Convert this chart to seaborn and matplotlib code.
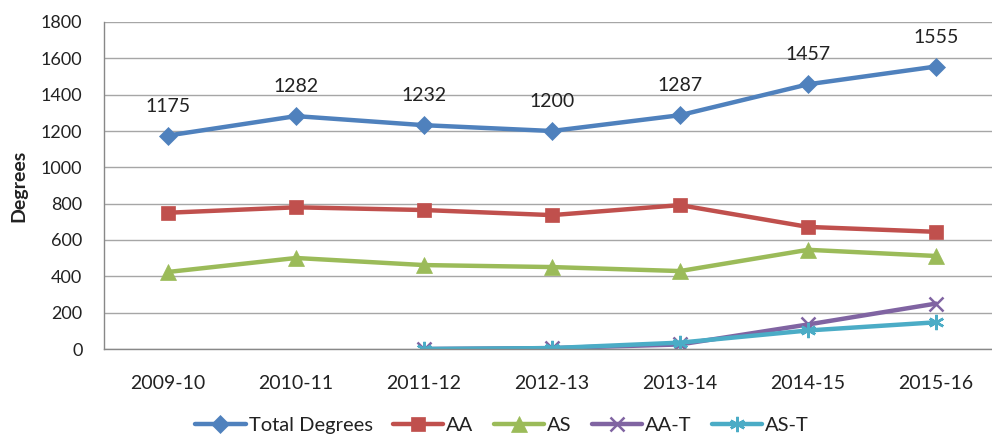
import numpy as np
import pandas as pd
import matplotlib
matplotlib.use('Agg')
import matplotlib.pyplot as plt
import seaborn as sns

years = ['2009-10', '2010-11', '2011-12', '2012-13', '2013-14', '2014-15', '2015-16']
total = [1175, 1282, 1232, 1200, 1287, 1457, 1555]
aa = [750, 780, 765, 737, 792, 672, 645]
as_ = [424, 501, 462, 451, 429, 546, 512]
aa_t = [np.nan, np.nan, 0, 5, 25, 135, 250]
as_t = [np.nan, np.nan, 0, 5, 35, 102, 147]

series = ['Total Degrees', 'AA', 'AS', 'AA-T', 'AS-T']
colors = ['#4F81BD', '#C0504D', '#9BBB59', '#8064A2', '#4BACC6']
markers = ['D', 's', '^', 'x', (6, 2, 0)]
msizes = [9, 10, 11, 10, 11]

df = pd.DataFrame({'year': years * 5,
                   'value': total + aa + as_ + aa_t + as_t,
                   'series': np.repeat(series, len(years))})
df['pos'] = np.tile(np.arange(len(years)), 5)

sns.set_style('white')
plt.rcParams['font.family'] = ['Lato', 'DejaVu Sans']
txt = '#222222'

fig = plt.figure(figsize=(9.92, 4.37), dpi=100)
ax = fig.add_axes([104 / 992, 88 / 437, 896 / 992, 327 / 437])

# one line per series, drawn through seaborn
for s, c, m, ms in zip(series, colors, markers, msizes):
    d = df[df['series'] == s].dropna()
    sns.lineplot(data=d, x='pos', y='value', ax=ax, color=c, lw=3.2,
                 marker=m, markersize=ms, markeredgecolor=c,
                 markeredgewidth=1.8 if m in ['x', (6, 2, 0)] else 0.5,
                 label=s)

# data labels above the totals
for i, v in enumerate(total):
    ax.annotate(str(v), (i, v), xytext=(0, 15), textcoords='offset points',
                ha='center', va='bottom', fontsize=14, color=txt)

ax.set_xlim(-0.5, 6.5)
ax.set_ylim(0, 1800)
ax.set_yticks(range(0, 1801, 200))
ax.set_xticks(range(len(years)))
ax.set_xticklabels(years)
ax.set_xticks(np.arange(0.5, 6, 1), minor=True)
ax.tick_params(axis='x', which='major', length=0, pad=19, labelsize=14, labelcolor=txt)
ax.tick_params(axis='x', which='minor', length=5, color='#888888', width=1)
ax.tick_params(axis='y', length=5, color='#888888', width=1, labelsize=13, pad=10.5, labelcolor=txt)
ax.grid(axis='y', color='#A6A6A6', lw=1)
ax.set_axisbelow(True)
for sp in ['top', 'right']:
    ax.spines[sp].set_visible(False)
for sp in ['left', 'bottom']:
    ax.spines[sp].set_color('#888888')
    ax.spines[sp].set_linewidth(1)
ax.set_xlabel('')
ax.set_ylabel('Degrees', fontsize=14, fontweight='bold', color=txt)
ax.yaxis.set_label_coords(-0.086, 0.5)

ax.legend(loc='center', bbox_to_anchor=(502 / 992, 12 / 437), bbox_transform=fig.transFigure,
          ncol=5, frameon=False, fontsize=14.5, handlelength=2.5, columnspacing=1.0,
          handletextpad=0.15, labelcolor=txt)

fig.savefig('out.png', dpi=100)
